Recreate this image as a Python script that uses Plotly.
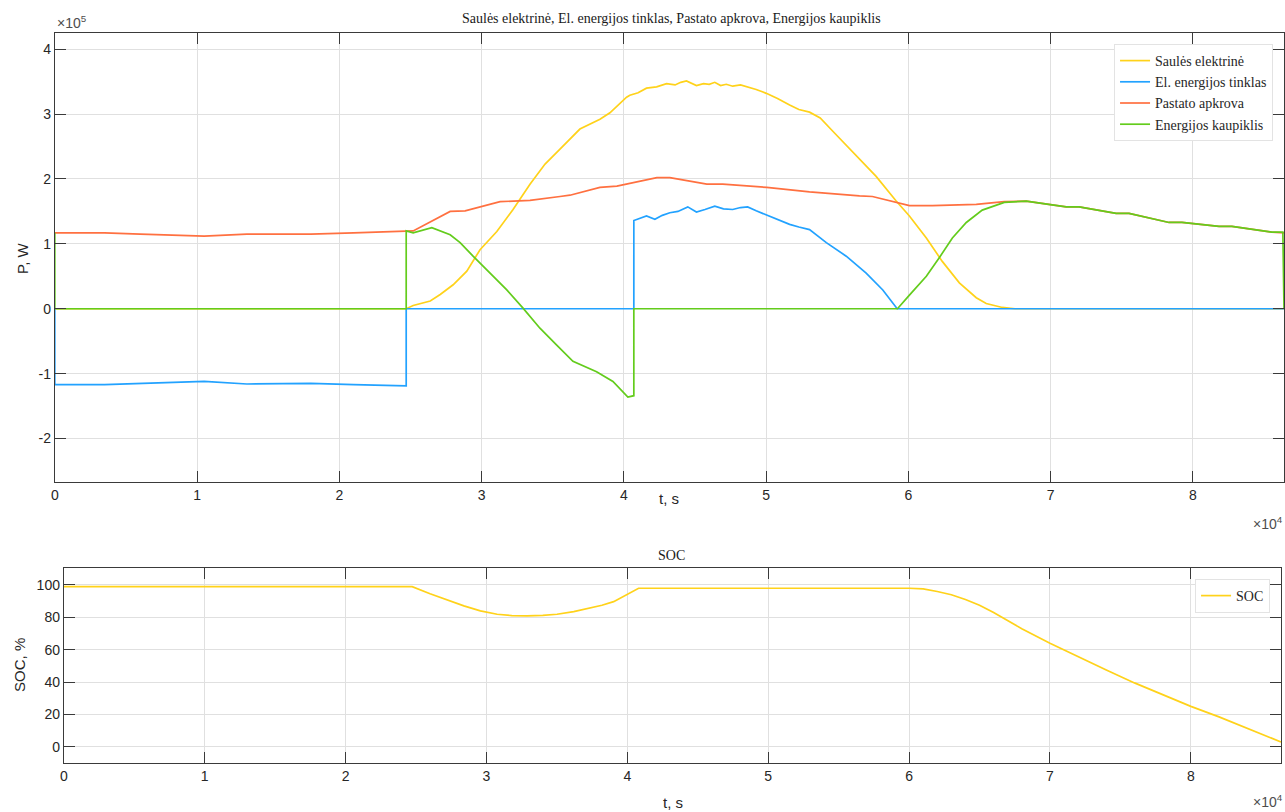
import plotly.graph_objects as go

# ---------------- data ----------------
# Saulės elektrinė (solar), t [s], P [W]
t_solar = [0, 24700, 25190, 26390, 27090, 28000, 28960, 29890, 31070, 32210, 33400, 34460,
           35510, 36910, 38320, 39020, 40190, 40420, 41000, 41590, 42300, 43000, 43600, 44000,
           44400, 44800, 45100, 45600, 46000, 46390, 46800, 47200, 47650, 48200, 48700, 49300,
           50010, 50800, 51650, 52300, 53050, 53800, 54670, 56090, 57730, 59140, 60070, 61260,
           62380, 63580, 64770, 65470, 66600, 67500, 86400]
p_solar = [0, 0, 0.05e5, 0.12e5, 0.22e5, 0.37e5, 0.58e5, 0.91e5, 1.19e5, 1.53e5, 1.92e5, 2.23e5,
           2.46e5, 2.77e5, 2.92e5, 3.02e5, 3.26e5, 3.29e5, 3.33e5, 3.40e5, 3.42e5, 3.47e5, 3.45e5, 3.49e5,
           3.51e5, 3.47e5, 3.44e5, 3.47e5, 3.46e5, 3.49e5, 3.44e5, 3.46e5, 3.43e5, 3.45e5, 3.42e5, 3.38e5,
           3.32e5, 3.24e5, 3.14e5, 3.07e5, 3.03e5, 2.94e5, 2.74e5, 2.41e5, 2.04e5, 1.66e5, 1.43e5, 1.09e5,
           0.73e5, 0.40e5, 0.17e5, 0.08e5, 0.02e5, 0, 0]

# El. energijos tinklas (grid)
t_grid = [0, 0, 3500, 6500, 10500, 13500, 18000, 21000, 24700, 24700, 40700, 40700, 41000,
          41590, 42180, 42700, 43230, 43800, 44490, 45100, 45700, 46390, 47000, 47650, 48200,
          48700, 49300, 50010, 50800, 51650, 52300, 53050, 54230, 55630, 57030, 58200, 59210, 86400]
p_grid = [0, -1.17e5, -1.17e5, -1.15e5, -1.12e5, -1.16e5, -1.15e5, -1.17e5, -1.19e5, 0, 0, 1.36e5, 1.38e5,
          1.43e5, 1.38e5, 1.44e5, 1.48e5, 1.50e5, 1.57e5, 1.49e5, 1.53e5, 1.58e5, 1.54e5, 1.53e5, 1.56e5,
          1.57e5, 1.51e5, 1.45e5, 1.38e5, 1.30e5, 1.26e5, 1.22e5, 1.02e5, 0.81e5, 0.55e5, 0.29e5, 0, 0]

# Pastato apkrova (load)
t_load = [0, 3500, 6000, 10500, 13500, 18000, 21000, 24700, 25190, 27790, 28840, 31300, 33400,
          35510, 36210, 38315, 39510, 42320, 43230, 45830, 46950, 50040, 53050, 56560, 57470,
          60070, 61680, 64770, 66740, 68280, 70100, 71090, 72000, 74600, 75510, 78320, 79230,
          81830, 82740, 85540, 86400]
p_load = [1.17e5, 1.17e5, 1.15e5, 1.12e5, 1.15e5, 1.15e5, 1.17e5, 1.19e5, 1.20e5, 1.50e5, 1.51e5, 1.65e5, 1.67e5,
          1.73e5, 1.75e5, 1.87e5, 1.89e5, 2.02e5, 2.02e5, 1.92e5, 1.92e5, 1.87e5, 1.80e5, 1.74e5, 1.73e5,
          1.59e5, 1.59e5, 1.61e5, 1.65e5, 1.66e5, 1.60e5, 1.57e5, 1.57e5, 1.47e5, 1.47e5, 1.33e5, 1.33e5,
          1.27e5, 1.27e5, 1.18e5, 1.17e5]

# Energijos kaupiklis (storage)
t_bat = [0, 0, 24700, 24700, 25190, 26500, 27790, 28490, 29400, 30600, 31770, 32910, 34100,
         35280, 36420, 38080, 39230, 40280, 40700, 40700, 59230, 60070, 61260, 62180, 63090,
         64070, 65190, 66740, 68280, 70100, 71090, 72000, 74600, 75510, 78320, 79230, 81830,
         82740, 85540, 86320, 86400]
p_bat = [1.17e5, 0, 0, 1.20e5, 1.17e5, 1.25e5, 1.14e5, 1.02e5, 0.81e5, 0.55e5, 0.29e5, 0.01e5, -0.30e5,
         -0.56e5, -0.81e5, -0.97e5, -1.12e5, -1.36e5, -1.34e5, 0, 0, 0.21e5, 0.50e5, 0.79e5, 1.09e5,
         1.33e5, 1.52e5, 1.64e5, 1.66e5, 1.60e5, 1.57e5, 1.57e5, 1.47e5, 1.47e5, 1.33e5, 1.33e5, 1.27e5,
         1.27e5, 1.18e5, 1.18e5, 0]

# SOC [%]
t_soc = [0, 24730, 26000, 27210, 28400, 29570, 30760, 31800, 32890, 34000, 35010, 36200, 37380,
         38200, 39030, 39900, 40800, 60000, 61000, 62000, 63000, 64000, 65000, 66000, 67000, 68000,
         70000, 72000, 74000, 76000, 78000, 80000, 82000, 84000, 86400]
soc = [99, 99, 94.6, 90.8, 87.1, 84.0, 81.9, 81.1, 80.9, 81.2, 81.9, 83.5, 85.6,
       87.5, 89.7, 93.6, 98.0, 98, 97.6, 96, 94, 91, 87.5, 83, 78, 73,
       64, 55.5, 47.5, 39.5, 32, 25, 18.5, 11.5, 3]

x_tickvals = [0, 10000, 20000, 30000, 40000, 50000, 60000, 70000, 80000]
x_ticktext = ["0", "1", "2", "3", "4", "5", "6", "7", "8"]
y1_tickvals = [-2e5, -1e5, 0, 1e5, 2e5, 3e5, 4e5]
y1_ticktext = ["-2", "-1", "0", "1", "2", "3", "4"]
y2_tickvals = [0, 20, 40, 60, 80, 100]

names = ["Saulės elektrinė", "El. energijos tinklas", "Pastato apkrova", "Energijos kaupiklis"]
colors = ["#FFD21A", "#22A2FF", "#FF7040", "#63CC1C"]

# ---------------- figure ----------------
W, H = 1285, 812
fig = go.Figure()
series = [(t_solar, p_solar), (t_grid, p_grid), (t_load, p_load), (t_bat, p_bat)]
for (tx, py), nm, c in zip(series, names, colors):
    fig.add_trace(go.Scatter(x=tx, y=py, mode="lines", name=nm,
                             line=dict(color=c, width=1.7), xaxis="x", yaxis="y", legend="legend"))
fig.add_trace(go.Scatter(x=t_soc, y=soc, mode="lines", name="SOC",
                         line=dict(color="#FFD21A", width=1.7),
                         xaxis="x2", yaxis="y2", legend="legend2"))

def px(x):
    return x / W

def py_(y):
    return 1 - y / H

tickfont = dict(family="Liberation Sans, Arial", size=14, color="#262626")
axis_common = dict(showline=True, linecolor="#3a3a3a", linewidth=1, mirror="ticks",
                   ticks="inside", ticklen=11, tickcolor="#3a3a3a", tickwidth=1,
                   showgrid=True, gridcolor="#e0e0e0", gridwidth=1, zeroline=False,
                   tickfont=tickfont)

fig.update_layout(
    width=W, height=H,
    margin=dict(l=0, r=0, t=0, b=0),
    paper_bgcolor="white", plot_bgcolor="white",
    showlegend=True,
    xaxis=dict(domain=[px(51), px(1285)], range=[0, 86400], tickvals=x_tickvals, ticktext=x_ticktext,
               anchor="y", **axis_common),
    yaxis=dict(domain=[py_(482), py_(33)], range=[-2.67e5, 4.25e5], tickvals=y1_tickvals,
               ticktext=y1_ticktext, anchor="x", **axis_common),
    xaxis2=dict(domain=[px(60), px(1282)], range=[0, 86400], tickvals=x_tickvals, ticktext=x_ticktext,
                anchor="y2", **axis_common),
    yaxis2=dict(domain=[py_(763), py_(568)], range=[-10, 110.5], tickvals=y2_tickvals,
                anchor="x2", **axis_common),
    legend=dict(x=px(1274), xanchor="right", y=py_(44), yanchor="top",
                bgcolor="white", bordercolor="#e3e3e3", borderwidth=1,
                font=dict(family="Liberation Serif, Times New Roman", size=14, color="#262626"),
                tracegroupgap=0, itemwidth=30),
    legend2=dict(x=px(1271), xanchor="right", y=py_(579), yanchor="top",
                 bgcolor="white", bordercolor="#e3e3e3", borderwidth=1,
                 font=dict(family="Liberation Serif, Times New Roman", size=14, color="#262626")),
)

serif = dict(family="Liberation Serif, Times New Roman", size=14, color="#1a1a1a")
sans = dict(family="Liberation Sans, Arial", size=15, color="#262626")
sans_small = dict(family="Liberation Sans, Arial", size=14, color="#4d4d4d")
ann = [
    dict(text="Saulės elektrinė, El. energijos tinklas, Pastato apkrova, Energijos kaupiklis",
         x=px(670), y=py_(18), font=serif),
    dict(text="SOC", x=px(670), y=py_(555), font=serif),
    dict(text="t, s", x=px(668), y=py_(498), font=sans),
    dict(text="t, s", x=px(672), y=py_(802), font=sans),
    dict(text="P, W", x=px(18), y=py_(258), font=sans, textangle=-90),
    dict(text="SOC, %", x=px(15), y=py_(665), font=sans, textangle=-90),
    dict(text="×10<sup>5</sup>", x=px(51), y=py_(22), xanchor="left", font=sans_small),
    dict(text="×10<sup>4</sup>", x=px(1286), y=py_(523), xanchor="right", font=sans_small),
    dict(text="×10<sup>4</sup>", x=px(1286), y=py_(801), xanchor="right", font=sans_small),
]
for a in ann:
    a.setdefault("xanchor", "center")
    fig.add_annotation(xref="paper", yref="paper", showarrow=False, yanchor="middle", **a)

fig.write_html(
    "out.html",
    config={"displayModeBar": False},
    post_script="document.body.style.margin='0';document.body.style.overflow='hidden';",
)
